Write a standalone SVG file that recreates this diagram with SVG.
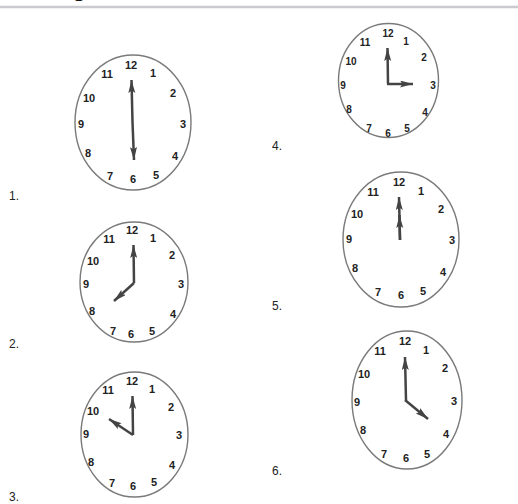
<svg xmlns="http://www.w3.org/2000/svg" width="518" height="504" viewBox="0 0 518 504">
<style>
.face{fill:#fff;stroke:#7a7a7a;stroke-width:1.4}
.n{font-family:"Liberation Sans",Arial,sans-serif;font-weight:bold;font-size:11px;fill:#222;text-anchor:middle}
.s{font-size:10px}
.hand{stroke:#444;stroke-width:2.5;stroke-linecap:butt;fill:none;marker-end:url(#ah)}
.lbl{font-family:"Liberation Sans",Arial,sans-serif;font-size:12px;fill:#222}
</style>
<defs>
<marker id="ah" markerUnits="userSpaceOnUse" markerWidth="14" markerHeight="8" refX="13" refY="3.5" orient="auto">
<path d="M0,0 L13,3.5 L0,7 L2.5,3.5 z" fill="#444"/>
</marker>
</defs>
<rect width="518" height="504" fill="#fff"/>
<text x="72" y="-4" font-family="Liberation Sans,Arial,sans-serif" font-size="26" fill="#111">g</text>
<line x1="0" y1="7" x2="518" y2="7" stroke="#c9cbd1" stroke-width="2.5"/>

<g id="clock1">
<ellipse class="face" cx="133" cy="122.5" rx="58" ry="67.5"/>
<text class="n" x="131" y="69">12</text><text class="n" x="153" y="77">1</text><text class="n" x="173" y="97">2</text><text class="n" x="183" y="128">3</text>
<text class="n" x="175" y="160">4</text><text class="n" x="156" y="179">5</text><text class="n" x="133" y="183">6</text><text class="n" x="110" y="180">7</text>
<text class="n" x="88" y="157">8</text><text class="n" x="81" y="128">9</text><text class="n" x="89" y="102">10</text><text class="n" x="107" y="78">11</text>
<line class="hand" x1="132.5" y1="122" x2="131.5" y2="80"/>
<line class="hand" x1="132.5" y1="122" x2="134" y2="160"/>
</g>

<g id="clock2">
<ellipse class="face" cx="134" cy="282" rx="54" ry="60"/>
<text class="n" x="132" y="234">12</text><text class="n" x="153" y="242">1</text><text class="n" x="172" y="259">2</text><text class="n" x="181" y="288">3</text>
<text class="n" x="173" y="318">4</text><text class="n" x="152" y="335">5</text><text class="n" x="131" y="338">6</text><text class="n" x="113" y="335">7</text>
<text class="n" x="92" y="315">8</text><text class="n" x="86" y="288">9</text><text class="n" x="93" y="265">10</text><text class="n" x="109" y="243">11</text>
<line class="hand" x1="134" y1="283" x2="133.5" y2="245"/>
<line class="hand" x1="134" y1="283" x2="114" y2="301"/>
</g>

<g id="clock3">
<ellipse class="face" cx="134.5" cy="434.5" rx="53.5" ry="62.5"/>
<text class="n" x="132" y="385">12</text><text class="n" x="152" y="393">1</text><text class="n" x="171" y="411">2</text><text class="n" x="179" y="439">3</text>
<text class="n" x="172" y="469">4</text><text class="n" x="154" y="486">5</text><text class="n" x="133" y="490">6</text><text class="n" x="112" y="487">7</text>
<text class="n" x="91" y="466">8</text><text class="n" x="86" y="438">9</text><text class="n" x="93" y="415">10</text><text class="n" x="108" y="394">11</text>
<line class="hand" x1="133" y1="435" x2="132.5" y2="396"/>
<line class="hand" x1="133" y1="435" x2="109" y2="419"/>
</g>

<g id="clock4">
<ellipse class="face" cx="388.5" cy="80.5" rx="50" ry="57"/>
<text class="n s" x="388" y="37">12</text><text class="n s" x="406" y="45">1</text><text class="n s" x="424" y="61">2</text><text class="n s" x="433" y="89">3</text>
<text class="n s" x="425" y="116">4</text><text class="n s" x="407" y="132">5</text><text class="n s" x="388" y="137">6</text><text class="n s" x="369" y="132">7</text>
<text class="n s" x="349" y="113">8</text><text class="n s" x="343" y="89">9</text><text class="n s" x="351" y="65">10</text><text class="n s" x="365" y="46">11</text>
<line class="hand" x1="388" y1="84" x2="387.5" y2="48"/>
<line class="hand" x1="387" y1="84" x2="413" y2="84"/>
</g>

<g id="clock5">
<ellipse class="face" cx="401" cy="239.5" rx="58" ry="67.5"/>
<text class="n" x="399" y="186">12</text><text class="n" x="421" y="195">1</text><text class="n" x="441" y="213">2</text><text class="n" x="452" y="244">3</text>
<text class="n" x="443" y="276">4</text><text class="n" x="423" y="295">5</text><text class="n" x="401" y="299">6</text><text class="n" x="378" y="296">7</text>
<text class="n" x="355" y="272">8</text><text class="n" x="349" y="243">9</text><text class="n" x="357" y="218">10</text><text class="n" x="373" y="196">11</text>
<line class="hand" x1="400" y1="240" x2="399" y2="197"/>
<line class="hand" x1="400" y1="240" x2="399.5" y2="215"/>
</g>

<g id="clock6">
<ellipse class="face" cx="407" cy="400" rx="55" ry="69"/>
<text class="n" x="405" y="345">12</text><text class="n" x="426" y="354">1</text><text class="n" x="445" y="372">2</text><text class="n" x="454" y="405">3</text>
<text class="n" x="446" y="438">4</text><text class="n" x="427" y="458">5</text><text class="n" x="406" y="462">6</text><text class="n" x="384" y="458">7</text>
<text class="n" x="363" y="434">8</text><text class="n" x="357" y="406">9</text><text class="n" x="364" y="378">10</text><text class="n" x="380" y="355">11</text>
<line class="hand" x1="406" y1="400" x2="405" y2="357"/>
<line class="hand" x1="405" y1="400" x2="428" y2="419"/>
</g>

<g id="labels">
<text class="lbl" x="9" y="200">1.</text>
<text class="lbl" x="9" y="348">2.</text>
<text class="lbl" x="9" y="501">3.</text>
<text class="lbl" x="272" y="150">4.</text>
<text class="lbl" x="272" y="310">5.</text>
<text class="lbl" x="272" y="475">6.</text>
</g>
</svg>
